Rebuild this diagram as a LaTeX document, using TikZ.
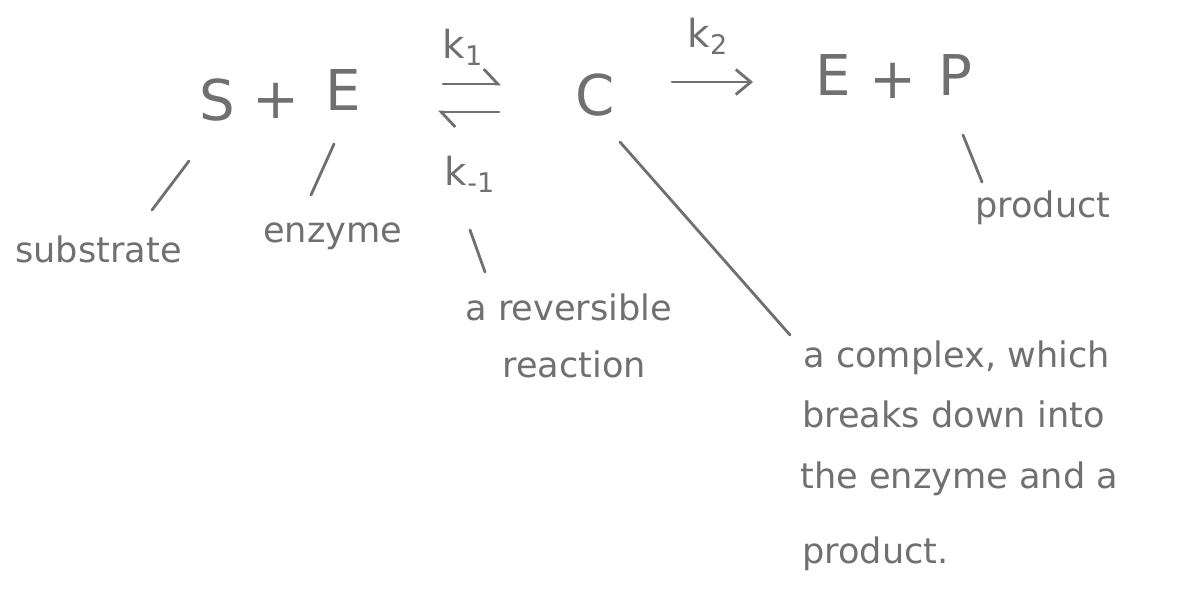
\documentclass[tikz,border=0pt]{standalone}
\usepackage{fontspec}
\setmainfont{DejaVu Sans}
\usetikzlibrary{arrows.meta}
\definecolor{pencil}{RGB}{112,112,112}

\begin{document}
\begin{tikzpicture}[
    x=0.02cm, y=-0.02cm,
    species/.style={
        anchor=base,
        inner sep=0pt,
        text=pencil,
        font=\fontsize{32}{36}\selectfont
    },
    rate/.style={
        anchor=base,
        inner sep=0pt,
        text=pencil,
        font=\fontsize{22}{26}\selectfont
    },
    notetext/.style={
        anchor=base west,
        inner sep=0pt,
        text=pencil,
        font=\fontsize{20}{24}\selectfont
    },
    note/.style={draw=pencil, line width=1.6pt, line cap=round},
    rxnarrow/.style={draw=pencil, line width=1.6pt, line cap=round,
        -{Straight Barb[length=3mm, width=5mm, line width=1.6pt]}},
    harpoon/.style={draw=pencil, line width=1.6pt, line cap=round,
        -{Straight Barb[left, length=2.8mm, width=6mm, line width=1.6pt]}}
]
\useasboundingbox (0,0) rectangle (1200,596);

% reaction scheme
\node[species] (S)  at (217,120) {S};
\node[species] (p1) at (276,118) {+};
\node[species] (E1) at (343,110) {E};
\node[species] (C)  at (595,115) {C};
\node[species] (E2) at (833,95)  {E};
\node[species] (p2) at (893,98)  {+};
\node[species] (P)  at (955,95)  {P};

\node[rate] (k1)  at (463,58)  {k\textsubscript{1}};
\node[rate] (km1) at (470,185) {k\textsubscript{-1}};
\node[rate] (k2)  at (708,47)  {k\textsubscript{2}};

\draw[harpoon] ([shift={(100,-26)}]E1.base) -- ([shift={(-94,-31)}]C.base);
\draw[harpoon] ([shift={(-96,-3)}]C.base) -- ([shift={(95,2)}]E1.base);
\draw[rxnarrow] ([shift={(77,-33)}]C.base) -- ([shift={(-80,-13)}]E2.base);

% annotations
\node[notetext] (sub)  at (15,262)  {substrate};
\node[notetext] (enz)  at (263,242) {enzyme};
\node[notetext] (rev1) at (465,320) {a reversible};
\node[notetext] (rev2) at (502,377) {reaction};
\node[notetext] (prod) at (975,217) {product};
\node[notetext] (cmp1) at (803,367) {a complex, which};
\node[notetext] (cmp2) at (802,427) {breaks down into};
\node[notetext] (cmp3) at (800,488) {the enzyme and a};
\node[notetext] (cmp4) at (802,563) {product.};

\draw[note] ([shift={(-28,41)}]S.base) -- ([shift={(137,-52)}]sub.base west);
\draw[note] ([shift={(-9,34)}]E1.base) -- ([shift={(48,-47)}]enz.base west);
\draw[note] ([shift={(0,45)}]km1.base) -- ([shift={(20,-48)}]rev1.base west);
\draw[note] ([shift={(25,27)}]C.base) -- ([shift={(-13,-32)}]cmp1.base west);
\draw[note] ([shift={(8,40)}]P.base) -- ([shift={(7,-35)}]prod.base west);
\end{tikzpicture}
\end{document}
